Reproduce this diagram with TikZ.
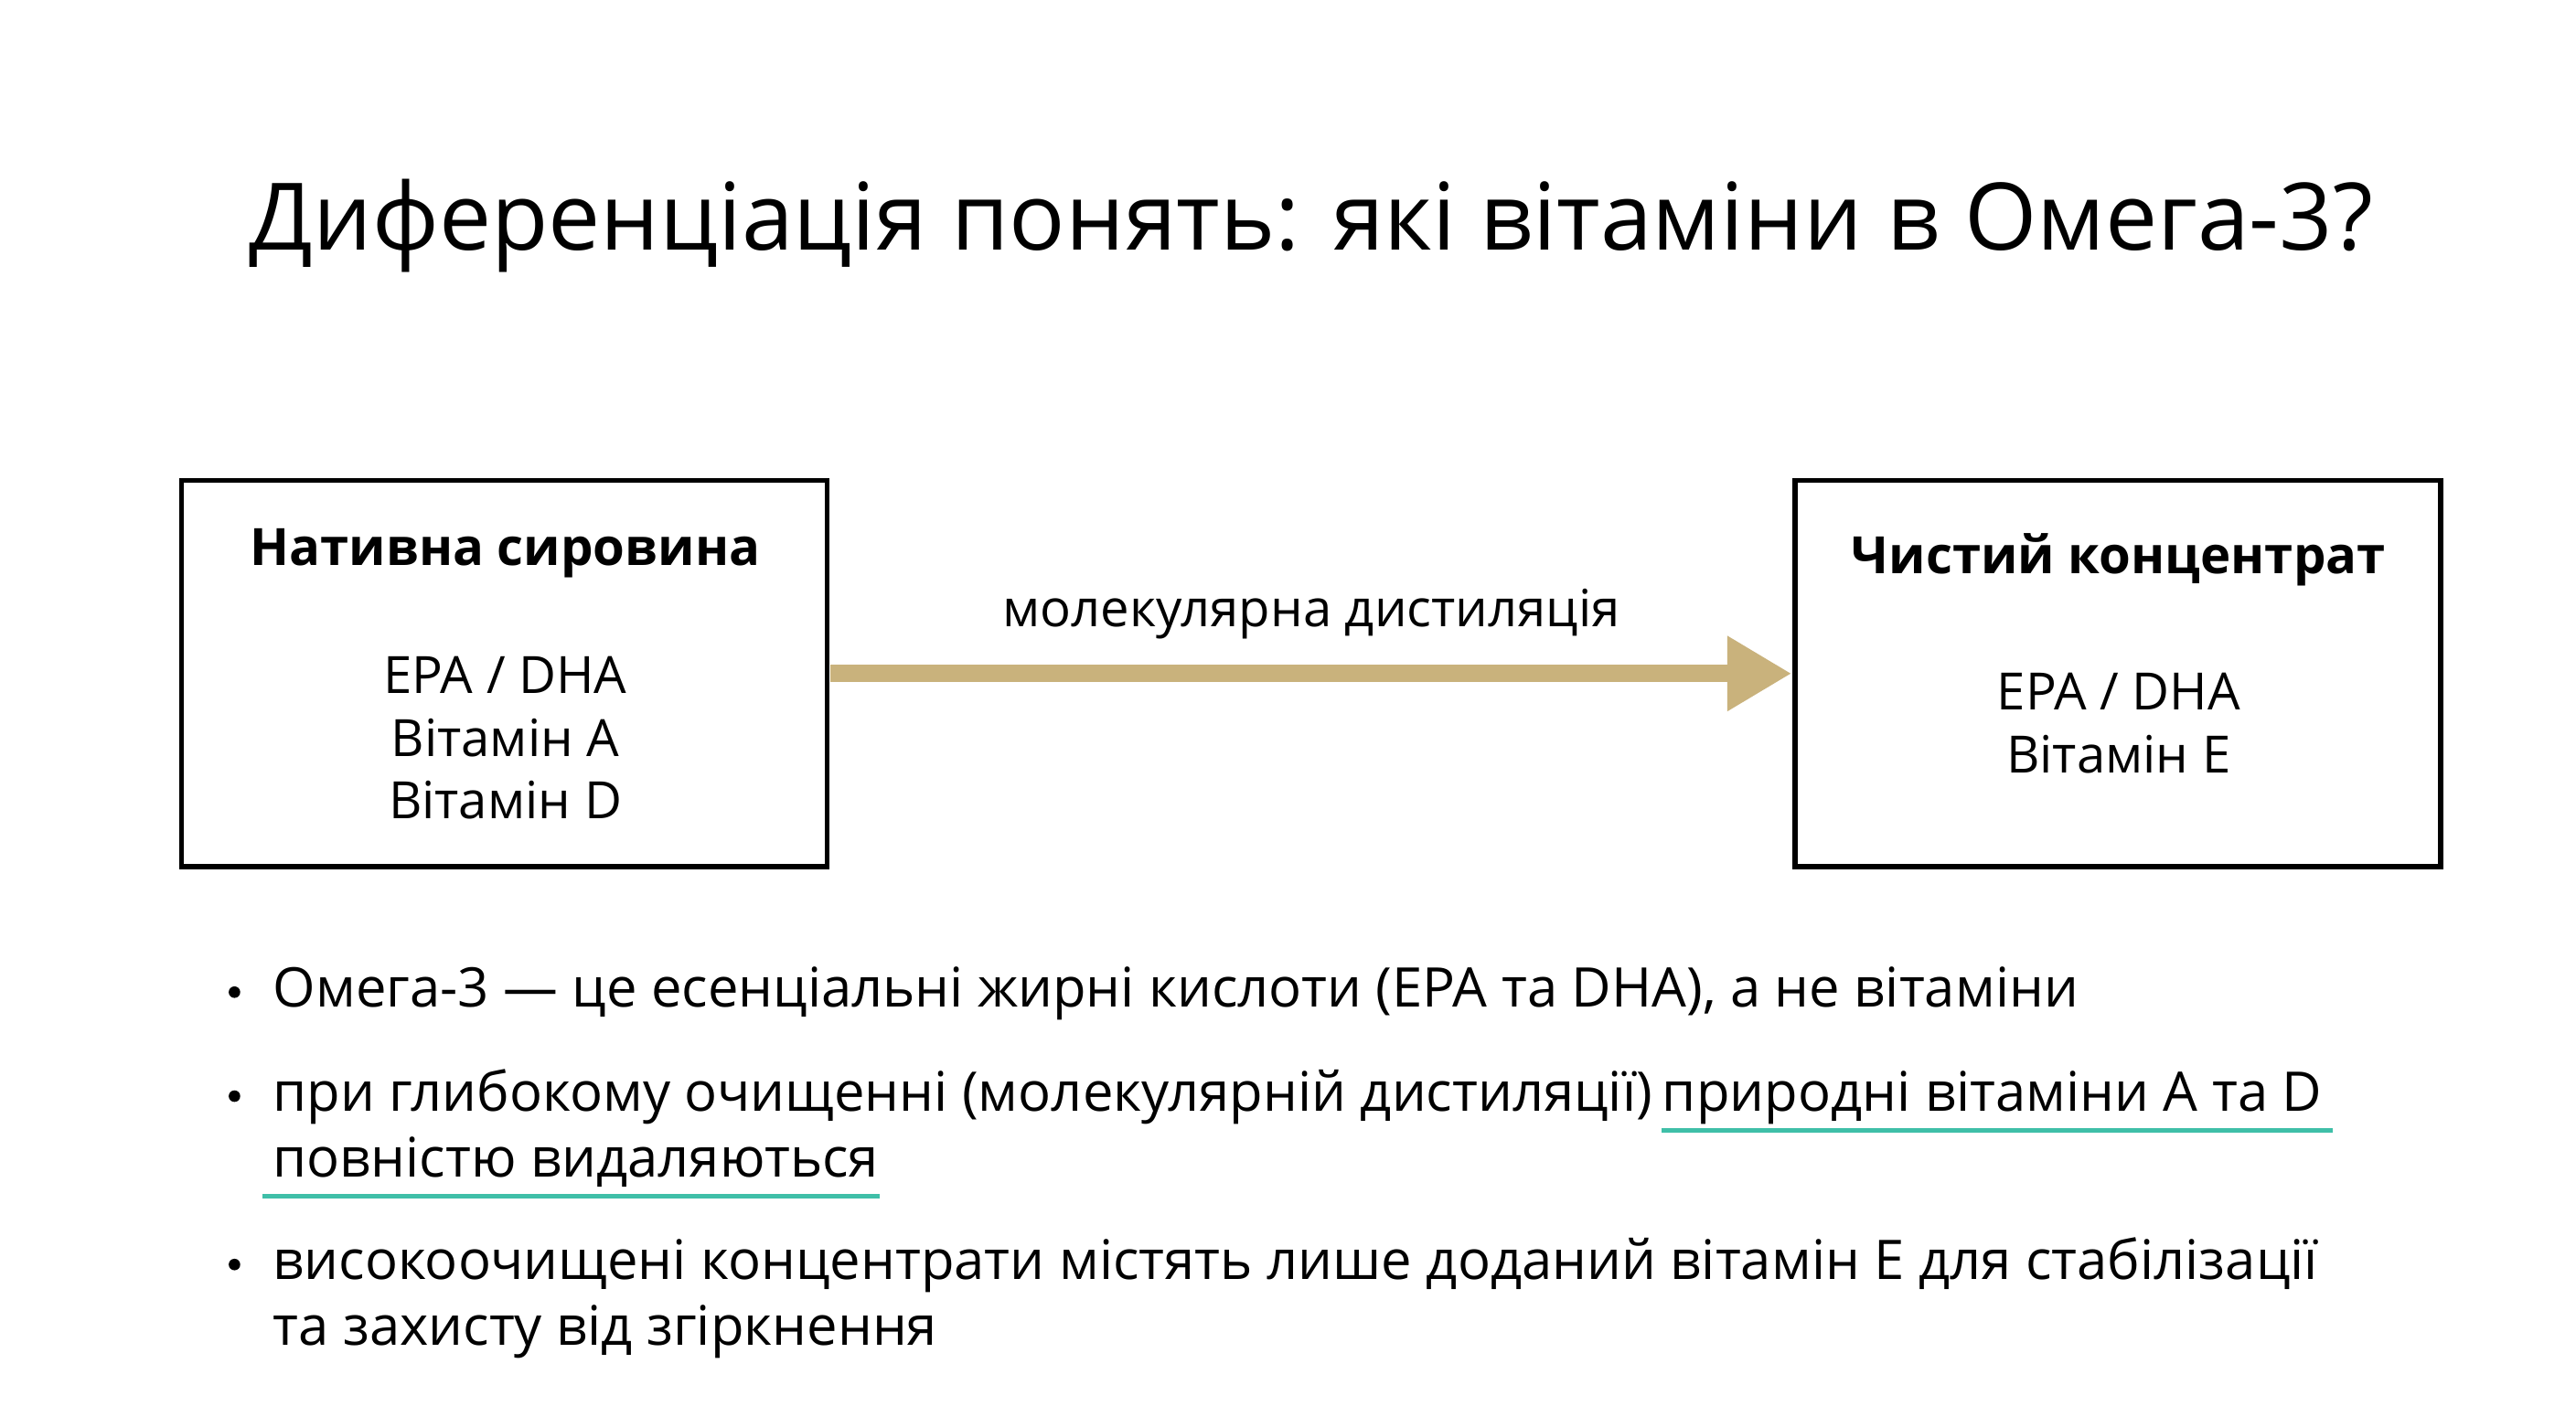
\documentclass[tikz,border=0pt]{standalone}
\usepackage{fontspec}
\setmainfont{Open Sans}
\usetikzlibrary{arrows.meta}
\definecolor{tan}{HTML}{C9B27C}
\definecolor{teal}{HTML}{3FBFA8}
\begin{document}
\begin{tikzpicture}[x=0.018058cm,y=-0.018058cm,
  txt/.style={inner sep=0,font=\fontsize{16}{19}\selectfont},
  bt/.style={inner sep=0,anchor=base west,font=\fontsize{17}{20}\selectfont},
  ul/.style={teal,line width=1.3pt}]
\useasboundingbox[fill=white] (0,0) rectangle (1560,858);
\node[inner sep=0,font=\fontsize{29}{36}\selectfont] (title) at (794,137) {Диференціація понять: які вітаміни в Омега-3?};
\draw[line width=1.5pt] (110,291) rectangle (501,525);
\draw[line width=1.5pt] (1087,291) rectangle (1478,525);
\node[inner sep=0,font=\fontsize{16}{19}\selectfont\bfseries] (lh) at (306,335) {Нативна сировина};
\node[txt,align=center,font=\fontsize{16}{19.5}\selectfont] (lb) at (306,447) {EPA / DHA\\Вітамін A\\Вітамін D};
\node[inner sep=0,font=\fontsize{16}{19}\selectfont\bfseries] (rh) at (1283,339) {Чистий концентрат};
\node[txt,align=center,font=\fontsize{16}{19.5}\selectfont] (rb) at (1283,438) {EPA / DHA\\Вітамін E};
\coordinate (a1) at (503,408); \coordinate (a2) at (1085,408);
\draw[tan,line width=5.5pt,-{Triangle[length=20pt,width=22pt]}] (a1) -- (a2);
\node[txt] (al) at (794,372) {молекулярна дистиляція};
\foreach \y in {601,664,766}{\fill (142,\y) circle (3.5);}
\node[bt] (b1) at (165,610) {Омега-3 — це есенціальні жирні кислоти (EPA та DHA), а не вітаміни};
\node[bt] (b2a) at (165,673) {при глибокому очищенні (молекулярній дистиляції)};
\node[bt] (b2b) at ([xshift=0.28em]b2a.base east) {природні вітаміни A та D};
\node[bt] (b2c) at (165,713) {повністю видаляються};
\draw[ul] ([yshift=-6pt]b2b.base west) -- ([yshift=-6pt,xshift=3pt]b2b.base east);
\draw[ul] ([yshift=-6pt,xshift=-3pt]b2c.base west) -- ([yshift=-6pt]b2c.base east);
\node[bt] (b3a) at (165,775) {високоочищені концентрати містять лише доданий вітамін E для стабілізації};
\node[bt] (b3b) at (165,815) {та захисту від згіркнення};
\end{tikzpicture}
\end{document}
